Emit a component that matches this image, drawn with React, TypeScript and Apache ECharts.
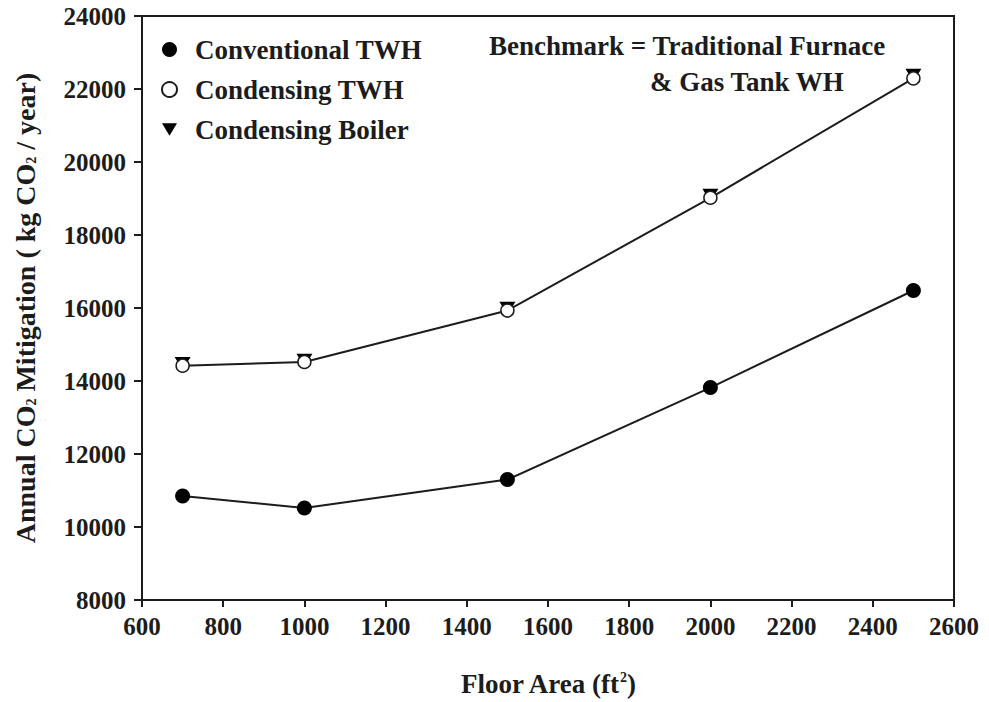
import React, { useEffect, useRef } from "react";
import * as echarts from "echarts";

const floorArea = [700, 1000, 1500, 2000, 2500];
const conventionalTWH = [10850, 10520, 11300, 13820, 16480];
const condensingTWH = [14420, 14520, 15930, 19020, 22290];
const condensingBoiler = [14480, 14570, 15990, 19090, 22380];

const FONT = "'Liberation Serif', 'Times New Roman', serif";
const INK = "#1c1c1c";

const pairs = (ys: number[]) => floorArea.map((x, i) => [x, ys[i]]);

const TRI_DOWN = "path://M0,0 L12,0 L6,10 Z";

export default function App() {
  const ref = useRef<HTMLDivElement>(null);

  useEffect(() => {
    if (!ref.current) return;
    const chart = echarts.init(ref.current, undefined, { renderer: "svg" });
    const tickStyle = { fontFamily: FONT, fontWeight: "bold" as const, fontSize: 25, color: INK };
    const textStyle = { fontFamily: FONT, fontWeight: "bold" as const, fontSize: 27, color: INK };
    chart.setOption({
      animation: false,
      backgroundColor: "#ffffff",
      grid: {
        left: 142,
        right: 35,
        top: 16,
        bottom: 97,
        show: true,
        borderColor: INK,
        borderWidth: 2,
        backgroundColor: "transparent",
      },
      legend: {
        orient: "vertical",
        left: 156,
        top: 31,
        itemGap: 13,
        itemWidth: 15,
        itemHeight: 15,
        textStyle: { ...textStyle, padding: [0, 0, 0, 13] },
        data: [
          { name: "Conventional TWH", icon: "circle" },
          { name: "Condensing TWH", icon: "circle" },
          { name: "Condensing Boiler", icon: TRI_DOWN },
        ],
      },
      xAxis: {
        type: "value",
        min: 600,
        max: 2600,
        interval: 200,
        name: "Floor Area (ft{sup|2})",
        nameLocation: "middle",
        nameGap: 70,
        nameTextStyle: {
          ...textStyle,
          rich: {
            sup: { fontFamily: FONT, fontWeight: "bold", fontSize: 14, color: INK, verticalAlign: "top", padding: [0, 0, 12, 0] },
          },
        },
        axisLine: { lineStyle: { color: INK, width: 2 } },
        axisTick: { length: 7, lineStyle: { color: INK, width: 2 } },
        axisLabel: { ...tickStyle, margin: 14, formatter: (v: number) => String(v) },
        splitLine: { show: false },
      },
      yAxis: {
        type: "value",
        min: 8000,
        max: 24000,
        interval: 2000,
        name: "Annual CO{sub|2} Mitigation ( kg CO{sub|2} / year)",
        nameLocation: "middle",
        nameGap: 103,
        nameTextStyle: {
          ...textStyle,
          fontSize: 28,
          rich: {
            sub: { fontFamily: FONT, fontWeight: "bold", fontSize: 14, color: INK, padding: [12, 0, 0, 0] },
          },
        },
        axisLine: { lineStyle: { color: INK, width: 2 } },
        axisTick: { length: 8, lineStyle: { color: INK, width: 2 } },
        axisLabel: { ...tickStyle, margin: 16, formatter: (v: number) => String(v) },
        splitLine: { show: false },
      },
      graphic: [
        {
          type: "text",
          left: 489,
          top: 32,
          style: { text: "Benchmark = Traditional Furnace", font: `bold 27px ${FONT}`, fill: INK },
        },
        {
          type: "text",
          left: 650,
          top: 68,
          style: { text: "& Gas Tank WH", font: `bold 27px ${FONT}`, fill: INK },
        },
      ],
      series: [
        {
          name: "Condensing TWH",
          type: "line",
          data: pairs(condensingTWH),
          symbol: "circle",
          symbolSize: 13,
          itemStyle: { color: "#ffffff", borderColor: INK, borderWidth: 1.5 },
          lineStyle: { color: INK, width: 2 },
          z: 3,
        },
        {
          name: "Condensing Boiler",
          type: "line",
          data: pairs(condensingBoiler),
          symbol: TRI_DOWN,
          symbolSize: [16, 13],
          itemStyle: { color: "#000000" },
          lineStyle: { width: 0, opacity: 0 },
          z: 2,
        },
        {
          name: "Conventional TWH",
          type: "line",
          data: pairs(conventionalTWH),
          symbol: "circle",
          symbolSize: 15,
          itemStyle: { color: "#000000" },
          lineStyle: { color: INK, width: 2 },
          z: 3,
        },
      ],
    });
    return () => chart.dispose();
  }, []);

  return (
    <div
      ref={ref}
      style={{ position: "fixed", left: 0, top: 0, width: 989, height: 702, background: "#fff" }}
    />
  );
}
